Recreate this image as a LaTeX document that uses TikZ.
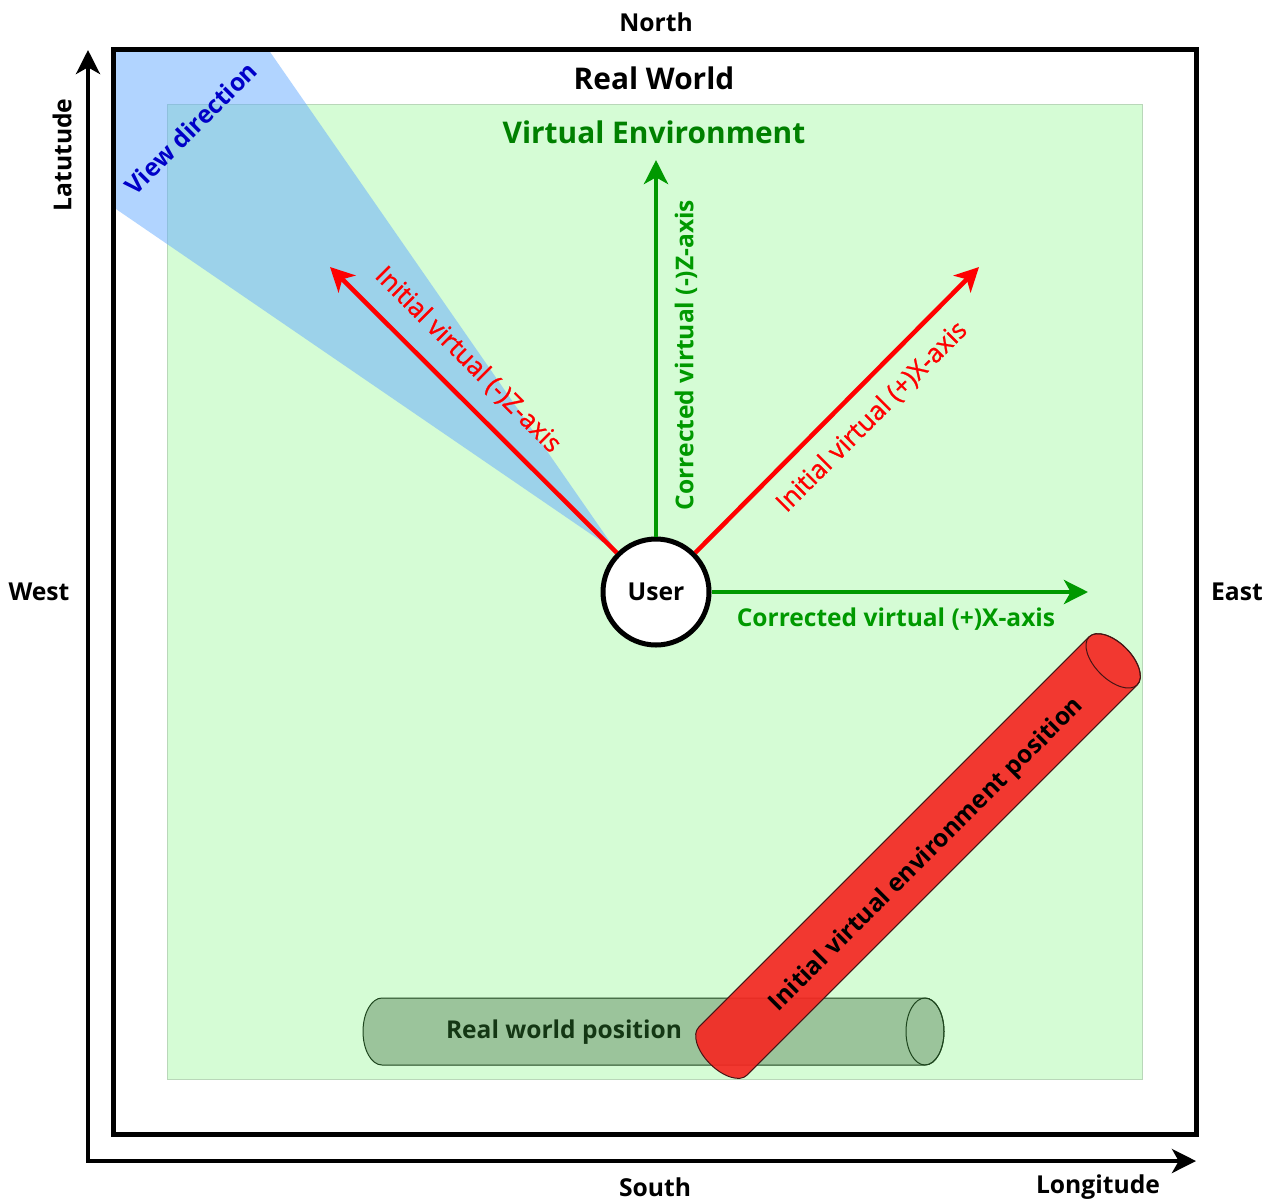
\documentclass[tikz,border=0pt]{standalone}
\usepackage{fontspec}
\setmainfont{Open Sans}
\newfontfamily\semibold[BoldFont={Open Sans}, BoldFeatures={FakeBold=0.9}]{Open Sans}
\usetikzlibrary{arrows.meta}

\definecolor{vebg}{RGB}{213,252,213}
\definecolor{veborder}{RGB}{185,215,185}
\definecolor{axgreen}{RGB}{0,153,0}
\definecolor{vetitle}{RGB}{0,128,0}
\definecolor{axred}{RGB}{255,0,0}
\definecolor{viewblue}{RGB}{100,170,255}
\definecolor{viewtext}{RGB}{0,0,200}
\definecolor{cylred}{RGB}{245,40,35}
\definecolor{cylredline}{RGB}{70,20,20}
\definecolor{cylgreen}{RGB}{155,196,155}
\definecolor{cylgreenline}{RGB}{30,70,30}
\definecolor{cylgreentext}{RGB}{20,55,20}

\tikzset{
  fs/.style={font=\bfseries\fontsize{#1}{#1}\selectfont},
  compass/.style={fs=18.5, text=black},
  axislabel/.style={font=\semibold\bfseries\fontsize{19.5}{19.5}\selectfont},
  bigtip/.tip={Stealth[length=18pt,width=18pt,inset=5pt]},
  axisline/.style={line width=3pt, {bigtip}-{bigtip}, line join=miter},
  greenarrow/.style={draw=axgreen, line width=3.6pt, -{bigtip}},
  redarrow/.style={draw=axred, line width=3.4pt, -{bigtip}},
  cyl/.style={line width=0.75pt},
}

\begin{document}
\begin{tikzpicture}[x=0.75pt,y=-0.75pt]
\useasboundingbox (0,0) rectangle (1274,1200);

% virtual environment area
\draw[fill=vebg, draw=veborder, line width=0.75pt] (167,104) rectangle (1142,1079);

% view cone
\fill[viewblue, fill opacity=0.5] (617,552) -- (113,207) -- (113,49) -- (268,49) -- cycle;

% real world frame
\draw[line width=3.75pt] (113,49) rectangle (1196,1134);

% latitude / longitude axes
\coordinate (origin) at (88,1161);
\coordinate (lat) at (88,50);
\coordinate (lon) at (1196,1161);
\draw[axisline] (lat) -- (origin) -- (lon);

% compass and axis titles
\node[compass] (north) at (656,22) {North};
\node[compass] (south) at (655,1187) {South};
\node[compass] (west) at (39,592) {West};
\node[compass] (east) at (1237,592) {East};
\node[compass] (longitude) at (1098,1187) {Longitude};
\node[compass, rotate=90] (latitude) at (62,155) {Latutude};

\node[fs=22.4] (rw) at (654,78) {Real World};
\node[fs=22.4, text=vetitle] (ve) at (654,132) {Virtual Environment};

% user and axes
\node[circle, draw, line width=3.75pt, fill=white, minimum size=79.5pt, inner sep=0pt, fs=18.5] (user) at (656,592) {User};

\coordinate (czTip) at (656,160);
\coordinate (cxTip) at (1088,592);
\coordinate (izTip) at (330,267);
\coordinate (ixTip) at (979,267);

\draw[greenarrow] (user.north) -- (czTip);
\draw[greenarrow] (user.east) -- (cxTip);
\draw[redarrow] (user.135) -- (izTip);
\draw[redarrow] (user.45) -- (ixTip);

\node[fs=18.4, text=axgreen, rotate=90] (czLabel) at (686,355) {Corrected virtual (-)Z-axis};
\node[fs=18.4, text=axgreen] (cxLabel) at (896,619) {Corrected virtual (+)X-axis};
\node[axislabel, text=axred, rotate=-45] (izLabel) at (468,360) {Initial virtual (-)Z-axis};
\node[axislabel, text=axred, rotate=45] (ixLabel) at (872,417) {Initial virtual (+)X-axis};
\node[fs=18.4, text=viewtext, rotate=45] (viewLabel) at (191,128) {View direction};

% real world position cylinder
\begin{scope}[shift={(653.5,1031.5)}]
  \filldraw[cyl, fill=cylgreen, draw=cylgreenline]
    (271.5,-33.5) -- (-271.5,-33.5)
    arc[start angle=270, end angle=90, x radius=19, y radius=33.5]
    -- (271.5,33.5)
    arc[start angle=90, end angle=-90, x radius=19, y radius=33.5] -- cycle;
  \draw[cyl, draw=cylgreenline] (271.5,0) ellipse[x radius=19, y radius=33.5];
\end{scope}
\node[fs=18.4, text=cylgreentext] (rwpos) at (564,1032) {Real world position};

% initial virtual environment position cylinder
\begin{scope}[shift={(918,856)}, rotate=45]
  \filldraw[cyl, fill=cylred, fill opacity=0.92, draw=cylredline]
    (276,-34) -- (-276,-34)
    arc[start angle=270, end angle=90, x radius=18, y radius=34]
    -- (276,34)
    arc[start angle=90, end angle=-90, x radius=18, y radius=34] -- cycle;
  \draw[cyl, draw=cylredline] (276,0) ellipse[x radius=18, y radius=34];
\end{scope}
\node[fs=18.4, text=black, rotate=45] (ivepos) at (927,855) {Initial virtual environment position};

\end{tikzpicture}
\end{document}
